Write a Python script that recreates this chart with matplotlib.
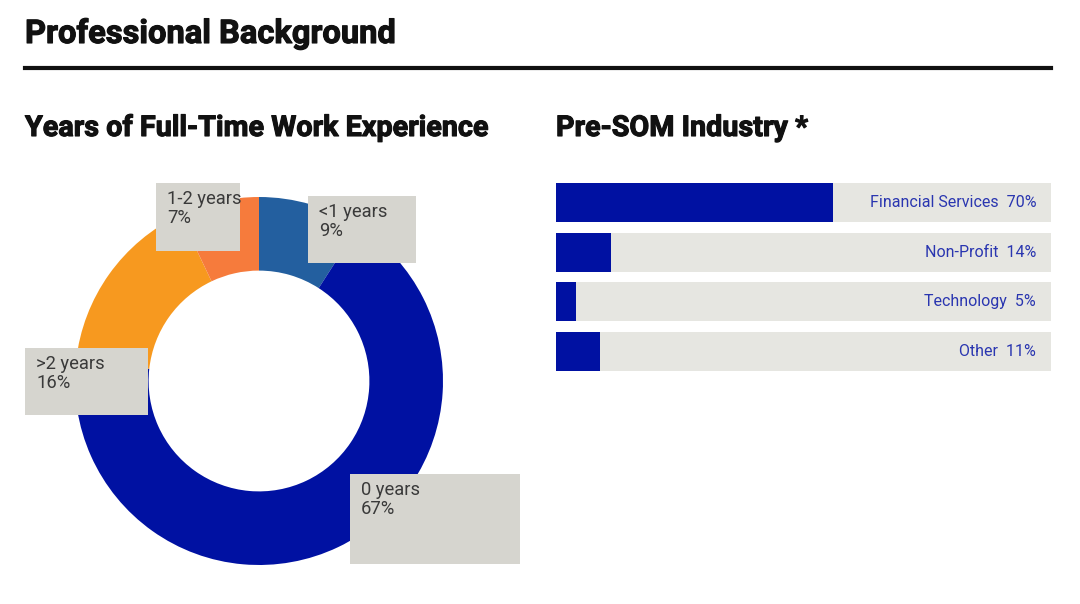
import matplotlib
matplotlib.use("Agg")
import matplotlib.pyplot as plt
from matplotlib.patches import Rectangle
import matplotlib.patheffects as pe

# ---- data ----
exp_labels = ["<1 years", "0 years", ">2 years", "1-2 years"]
exp_values = [9, 67, 16, 7]
exp_colors = ["#235F9F", "#0011A2", "#F7991F", "#F67B3C"]

ind_labels = ["Financial Services", "Non-Profit", "Technology", "Other"]
ind_values = [70, 14, 5, 11]

W, H = 1080, 604
fig = plt.figure(figsize=(W / 100, H / 100), dpi=100)
fig.patch.set_facecolor("white")

def px_axes(x0, y0, x1, y1):
    return fig.add_axes([x0 / W, 1 - y1 / H, (x1 - x0) / W, (y1 - y0) / H])

TITLE_FONT = ["Roboto", "DejaVu Sans"]
LABEL_FONT = ["Roboto", "DejaVu Sans"]
heavy = [pe.withStroke(linewidth=0.8, foreground="#111111")]

# title and rule
fig.text(25 / W, 1 - 43 / H, "Professional Background", family=TITLE_FONT,
         weight="bold", fontsize=23.5, color="#111111", va="baseline", ha="left",
         path_effects=heavy)
fig.add_artist(plt.Line2D([25 / W, 1051 / W], [1 - 68 / H, 1 - 68 / H],
                          color="#111111", lw=3))

fig.text(25 / W, 1 - 136 / H, "Years of Full-Time Work Experience", family=TITLE_FONT,
         weight="bold", fontsize=20.7, color="#111111", va="baseline", ha="left",
         path_effects=heavy)
fig.text(556 / W, 1 - 136 / H, "Pre-SOM Industry *", family=TITLE_FONT,
         weight="bold", fontsize=20.7, color="#111111", va="baseline", ha="left",
         path_effects=heavy)

# ---- donut ----
cx, cy, r = 259, 381, 184
axd = px_axes(cx - r, cy - r, cx + r, cy + r)
axd.pie(exp_values, colors=exp_colors, startangle=90, counterclock=False,
        radius=1, wedgeprops=dict(width=0.4, linewidth=0))
axd.set_xlim(-1, 1)
axd.set_ylim(-1, 1)
axd.set_aspect("equal")
axd.axis("off")

# label boxes (pixel layout: x0, y0, x1, y1)
box_layout = {
    "<1 years": (308, 196, 416, 263),
    "0 years": (350, 474, 520, 564),
    ">2 years": (25, 348, 148, 415),
    "1-2 years": (156, 183, 240, 251),
}
for lab, val in zip(exp_labels, exp_values):
    x0, y0, x1, y1 = box_layout[lab]
    fig.add_artist(Rectangle((x0 / W, 1 - y1 / H), (x1 - x0) / W, (y1 - y0) / H,
                             transform=fig.transFigure, facecolor="#D6D5CF",
                             edgecolor="none", zorder=5))
    fig.text((x0 + 11) / W, 1 - (y0 + 7) / H, f"{lab}\n{val}%", family=LABEL_FONT,
             weight="normal", fontsize=13.2, color="#3A3A3A", va="top", ha="left",
             linespacing=1.08, zorder=6)

# ---- bars ----
axb = px_axes(556, 183, 1051, 371)
h = 39 / 49.6
ypos = list(range(len(ind_labels)))
xmax = 125
axb.barh(ypos, [xmax] * len(ypos), height=h, color="#E6E6E1", linewidth=0)
axb.barh(ypos, ind_values, height=h, color="#0011A2", linewidth=0)
for y, lab, val in zip(ypos, ind_labels, ind_values):
    axb.text(xmax * 0.97, y, f"{lab}  {val}%", family=LABEL_FONT, fontsize=11.5,
             color="#2A36B0", ha="right", va="center")
axb.set_xlim(0, xmax)
axb.set_ylim(len(ypos) - 1 + h / 2, -h / 2)
axb.axis("off")

fig.savefig("out.png", dpi=100, facecolor="white")
